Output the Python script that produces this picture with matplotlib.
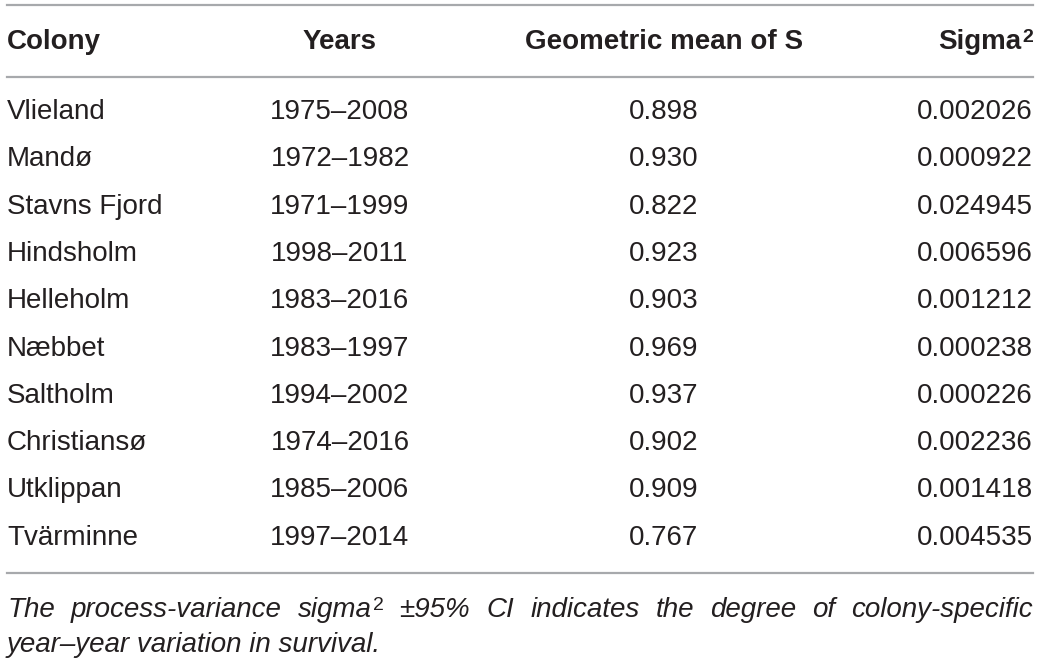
import matplotlib.pyplot as plt
from matplotlib.lines import Line2D

colonies = ["Vlieland", "Mandø", "Stavns Fjord", "Hindsholm", "Helleholm",
            "Næbbet", "Saltholm", "Christiansø", "Utklippan", "Tvärminne"]
years = ["1975–2008", "1972–1982", "1971–1999", "1998–2011", "1983–2016",
         "1983–1997", "1994–2002", "1974–2016", "1985–2006", "1997–2014"]
geo_mean = ["0.898", "0.930", "0.822", "0.923", "0.903",
            "0.969", "0.937", "0.902", "0.909", "0.767"]
sigma2 = ["0.002026", "0.000922", "0.024945", "0.006596", "0.001212",
          "0.000238", "0.000226", "0.002236", "0.001418", "0.004535"]
headers = ["Colony", "Years", "Geometric mean of S"]
sigma_header = "Sigma"
note_lines = ["The process-variance sigma^2 ±95% CI indicates the degree of colony-specific",
              "year–year variation in survival."]

W, H = 1041, 665
fig = plt.figure(figsize=(W / 100, H / 100), dpi=100)
fig.patch.set_facecolor("white")


def fx(x):
    return x / W


def fy(y):
    return 1 - y / H


font = "Liberation Sans"
col_x = [7, 340, 664, 1033]
col_ha = ["left", "center", "center", "right"]
txt_color = "#231f20"
sup_size = 14

fig.canvas.draw()
renderer = fig.canvas.get_renderer()


def width_of(s, **kw):
    t = fig.text(0, 0, s, **kw)
    w = t.get_window_extent(renderer).width
    t.remove()
    return w


# header
for x, ha, h in zip(col_x, col_ha, headers):
    fig.text(fx(x), fy(42), h, ha=ha, va="center", fontsize=20,
             fontweight="bold", family=font, color=txt_color)
w2 = width_of("2", fontsize=sup_size, fontweight="bold", family=font)
sig_right = 1033 - w2 - 1
fig.text(fx(sig_right), fy(42), sigma_header, ha="right", va="center", fontsize=20,
         fontweight="bold", family=font, color=txt_color)
fig.text(fx(sig_right + 1), fy(37), "2", ha="left", va="center", fontsize=sup_size,
         fontweight="bold", family=font, color=txt_color)

# rows
row_y = [112 + i * 47.3 for i in range(len(colonies))]
for y, c, yr, g, s in zip(row_y, colonies, years, geo_mean, sigma2):
    for x, ha, t in zip(col_x, col_ha, [c, yr, g, s]):
        fig.text(fx(x), fy(y), t, ha=ha, va="center", fontsize=20,
                 family=font, color=txt_color)

# rules
for y in [5, 77, 573]:
    fig.add_artist(Line2D([fx(7), fx(1033)], [fy(y), fy(y)], color="#a7a9ac", lw=1.6))

# footnote, first line justified
words = note_lines[0].split(" ")
widths = []
for w in words:
    wd = width_of(w.replace("^2", ""), fontsize=20, style="italic", family=font)
    if "^2" in w:
        widths.append((wd, wd + 1 + width_of("2", fontsize=sup_size, family=font)))
    else:
        widths.append((wd, wd))
gap = (1033 - 7 - sum(w[1] for w in widths)) / (len(words) - 1)
x = 7
for w, (wd, wtot) in zip(words, widths):
    fig.text(fx(x), fy(610), w.replace("^2", ""), ha="left", va="center", fontsize=20,
             style="italic", family=font, color=txt_color)
    if "^2" in w:
        fig.text(fx(x + wd + 1), fy(605), "2", ha="left", va="center", fontsize=sup_size,
                 family=font, color=txt_color)
    x += wtot + gap
fig.text(fx(7), fy(645), note_lines[1], ha="left", va="center", fontsize=20,
         style="italic", family=font, color=txt_color)

fig.savefig("out.png", dpi=100, facecolor="white")
